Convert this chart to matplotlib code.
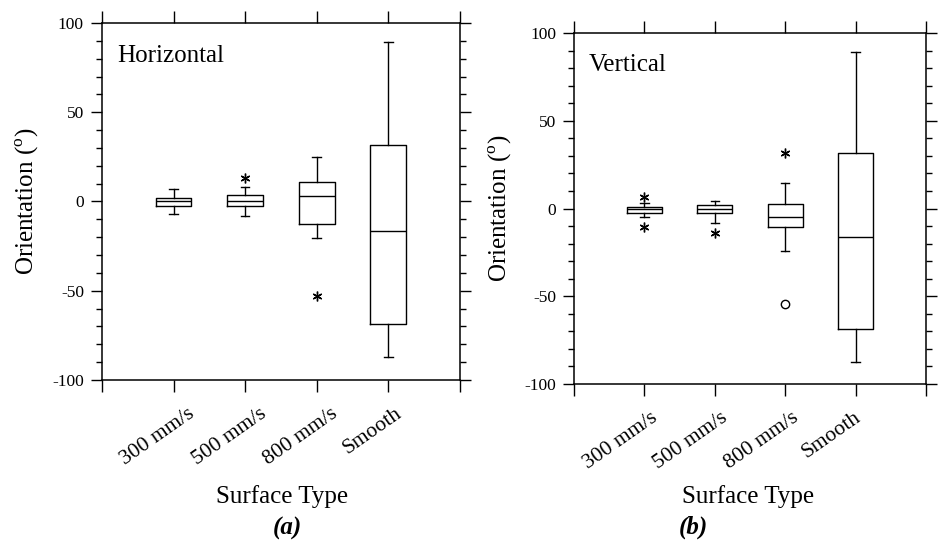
import matplotlib
matplotlib.use('Agg')
import matplotlib.pyplot as plt
import matplotlib.transforms as mtransforms
from matplotlib.ticker import MultipleLocator

# data
surfaces = ['300 mm/s', '500 mm/s', '800 mm/s', 'Smooth']

# (a) horizontal orientation
h_whislo = [-6.9, -8.0, -20.7, -87.4]
h_q1     = [-2.4, -2.4, -12.5, -68.5]
h_med    = [0.0, 0.0, 2.8, -16.6]
h_q3     = [1.9, 3.4, 11.0, 31.6]
h_whishi = [6.9, 8.1, 25.2, 89.5]
h_star_x = [2, 3]
h_star_y = [13.1, -52.7]

# (b) vertical orientation
v_whislo = [-4.8, -8.1, -24.0, -87.3]
v_q1     = [-2.4, -2.4, -10.4, -68.8]
v_med    = [0.0, -0.3, -5.0, -16.4]
v_q3     = [0.8, 1.8, 2.6, 31.4]
v_whishi = [3.3, 4.3, 14.4, 89.3]
v_star_x = [1, 1, 2, 3]
v_star_y = [6.7, -10.5, -13.8, 31.8]
v_circ_x = [3]
v_circ_y = [-54.2]

plt.rcParams['font.family'] = ['Liberation Serif', 'DejaVu Serif']
plt.rcParams['mathtext.fontset'] = 'custom'
plt.rcParams['mathtext.rm'] = 'Liberation Serif'
plt.rcParams['axes.unicode_minus'] = False

fig = plt.figure(figsize=(9.41, 5.45), dpi=100)
ax1 = fig.add_axes([0.1084, 0.3028, 0.3804, 0.655])
ax2 = fig.add_axes([0.6100, 0.2954, 0.3741, 0.644])


def draw(ax, whislo, q1, med, q3, whishi, title, xoff):
    stats = []
    for i in range(len(surfaces)):
        stats.append(dict(whislo=whislo[i], q1=q1[i], med=med[i],
                          q3=q3[i], whishi=whishi[i], fliers=[]))
    lp = dict(color='black', linewidth=1.0)
    ax.bxp(stats, positions=[1, 2, 3, 4], widths=0.5, capwidths=0.12,
           showfliers=False, boxprops=lp, whiskerprops=lp, capprops=lp,
           medianprops=lp)
    ax.set_xlim(0, 5)
    ax.set_ylim(-100, 100)
    ax.set_xticks([0, 1, 2, 3, 4, 5])
    ax.set_xticklabels([''] + surfaces + [''], rotation=35, ha='center',
                       fontsize=15.5)
    ax.yaxis.set_major_locator(MultipleLocator(50))
    ax.yaxis.set_minor_locator(MultipleLocator(10))
    ax.tick_params(axis='x', which='both', direction='out', top=True,
                   length=8.5, width=1.0, pad=9)
    ax.tick_params(axis='y', which='major', direction='out', right=True,
                   length=8, width=1.0, labelsize=12.5, pad=5)
    ax.tick_params(axis='y', which='minor', direction='out', right=True,
                   length=4.3, width=1.0)
    for s in ax.spines.values():
        s.set_linewidth(1.1)
    off = mtransforms.ScaledTranslation(xoff / 100, 0, fig.dpi_scale_trans)
    for lab in ax.get_xticklabels():
        lab.set_transform(lab.get_transform() + off)
    ax.set_ylabel(r'Orientation ($^{\mathrm{o}}$)', fontsize=18)
    ax.set_xlabel('Surface Type', fontsize=18)
    ax.text(0.042, 0.892, title, transform=ax.transAxes, fontsize=18,
            ha='left', va='baseline')


draw(ax1, h_whislo, h_q1, h_med, h_q3, h_whishi, 'Horizontal', -16)
draw(ax2, v_whislo, v_q1, v_med, v_q3, v_whishi, 'Vertical', -24)

ax1.plot(h_star_x, h_star_y, linestyle='none', marker=(6, 2, 0),
         markersize=7, color='black', markeredgewidth=1.0)
ax2.plot(v_star_x, v_star_y, linestyle='none', marker=(6, 2, 0),
         markersize=7, color='black', markeredgewidth=1.0)
ax2.plot(v_circ_x, v_circ_y, linestyle='none', marker='o', markersize=6,
         markerfacecolor='white', markeredgecolor='black',
         markeredgewidth=1.0)

ax1.yaxis.set_label_coords(-0.17, 0.5)
ax2.yaxis.set_label_coords(-0.17, 0.5)
ax1.xaxis.set_label_coords(0.503, -0.294)
ax2.xaxis.set_label_coords(0.494, -0.288)

fig.text(0.305, 0.031, '(a)', fontsize=18, fontweight='bold',
         fontstyle='italic', ha='center', va='center')
fig.text(0.7365, 0.033, '(b)', fontsize=18, fontweight='bold',
         fontstyle='italic', ha='center', va='center')

fig.savefig('out.png', dpi=100)
